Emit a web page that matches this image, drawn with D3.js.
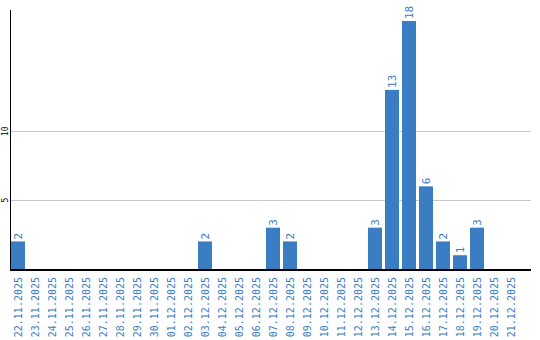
<!DOCTYPE html>
<html>
<head>
<meta charset="utf-8">
<script src="https://cdn.jsdelivr.net/npm/d3@7"></script>
<style>
  body { margin: 0; background: #fff; }
  svg text { font-family: "DejaVu Sans Mono", monospace; }
</style>
</head>
<body>
<div id="chart"></div>
<script>
// Daily counts, 22.11.2025 - 21.12.2025
const days = [
    "22.11.2025", "23.11.2025", "24.11.2025", "25.11.2025", "26.11.2025", "27.11.2025",
    "28.11.2025", "29.11.2025", "30.11.2025", "01.12.2025", "02.12.2025", "03.12.2025",
    "04.12.2025", "05.12.2025", "06.12.2025", "07.12.2025", "08.12.2025", "09.12.2025",
    "10.12.2025", "11.12.2025", "12.12.2025", "13.12.2025", "14.12.2025", "15.12.2025",
    "16.12.2025", "17.12.2025", "18.12.2025", "19.12.2025", "20.12.2025", "21.12.2025"
];
const counts = [
    2, 0, 0, 0, 0, 0,
    0, 0, 0, 0, 0, 2,
    0, 0, 0, 3, 2, 0,
    0, 0, 0, 3, 13, 18,
    6, 2, 1, 3, 0, 0
];
const yTicks = [5, 10];

const data = days.map((d, i) => ({ day: d, value: counts[i] }));

const width = 540, height = 340;
const blue = "#3b7dc3";

const svg = d3.select("#chart")
    .append("svg")
    .attr("width", width)
    .attr("height", height);

const x = d3.scaleBand()
    .domain(days)
    .range([11, 518])
    .paddingInner(3 / 17)
    .paddingOuter(0)
    .align(0);

const y = d3.scaleLinear()
    .domain([0, 18.8])
    .range([269, 10]);

// grid lines
svg.selectAll(".grid")
    .data(yTicks)
    .enter()
    .append("line")
    .attr("x1", 11)
    .attr("x2", 531)
    .attr("y1", d => Math.round(y(d)) + 0.5)
    .attr("y2", d => Math.round(y(d)) + 0.5)
    .attr("stroke", "#c8c8c8")
    .attr("stroke-width", 1);

// y tick labels (rotated)
svg.selectAll(".ylab")
    .data(yTicks)
    .enter()
    .append("text")
    .attr("transform", d => `translate(8,${y(d)}) rotate(-90)`)
    .attr("text-anchor", "middle")
    .attr("font-size", 8)
    .attr("fill", "#000")
    .text(d => d);

// bars
svg.selectAll(".bar")
    .data(data.filter(d => d.value > 0))
    .enter()
    .append("rect")
    .attr("x", d => x(d.day))
    .attr("y", d => y(d.value))
    .attr("width", x.bandwidth())
    .attr("height", d => y(0) - y(d.value) + 1)
    .attr("fill", blue);

// value labels
svg.selectAll(".val")
    .data(data.filter(d => d.value > 0))
    .enter()
    .append("text")
    .attr("transform", d => `translate(${x(d.day) + x.bandwidth() / 2 + 4},${y(d.value) - 2}) rotate(-90)`)
    .attr("text-anchor", "start")
    .attr("font-size", 11)
    .attr("fill", blue)
    .text(d => d.value);

// axes
svg.append("line")
    .attr("x1", 10.5).attr("x2", 10.5)
    .attr("y1", 10).attr("y2", 271)
    .attr("stroke", "#000").attr("stroke-width", 1);

svg.append("line")
    .attr("x1", 10).attr("x2", 531)
    .attr("y1", 270).attr("y2", 270)
    .attr("stroke", "#000").attr("stroke-width", 2);

// x tick labels
const xAxis = svg.append("g")
    .attr("transform", "translate(0,276)")
    .call(d3.axisBottom(x).tickSize(0).tickPadding(0));
xAxis.select(".domain").remove();
xAxis.selectAll("text")
    .attr("font-size", 10)
    .attr("font-family", "DejaVu Sans Mono, monospace")
    .attr("fill", blue)
    .attr("transform", "rotate(-90)")
    .attr("text-anchor", "end")
    .attr("x", -1)
    .attr("y", 0)
    .attr("dy", "0.35em");
</script>
</body>
</html>
